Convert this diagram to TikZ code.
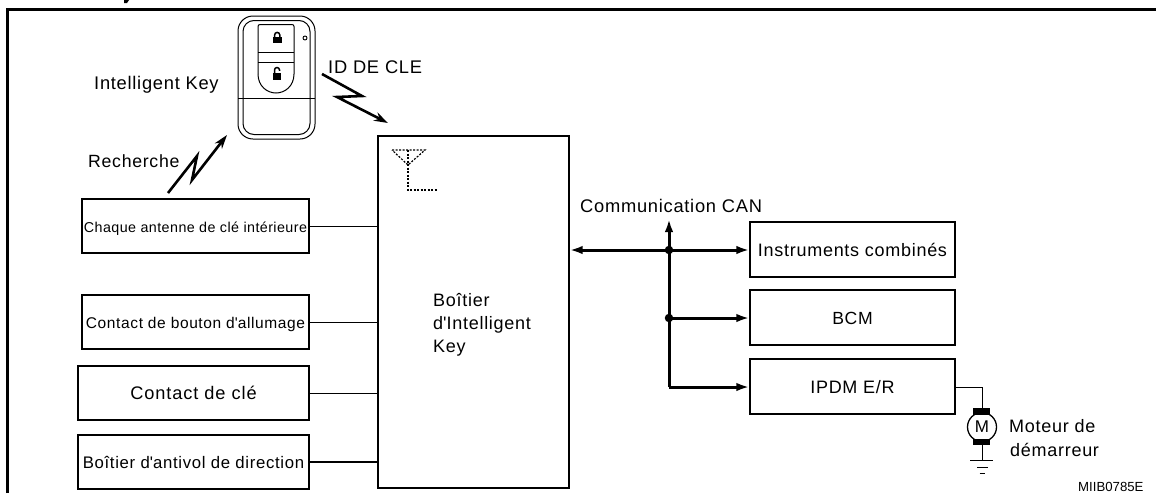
\documentclass[tikz,border=0pt]{standalone}
\usepackage{fontspec}
\setmainfont{Liberation Sans}
\usetikzlibrary{arrows.meta}
\newcommand{\ft}[2]{\fontsize{#1}{#1}\selectfont\addfontfeature{LetterSpace=#2}}
\tikzset{
 box/.style={draw=black,line width=1.3pt,inner sep=0pt,align=center,text height=13pt,text depth=0pt},
 lbl/.style={anchor=base west,inner sep=0pt,text=black},
 wire/.style={draw=black,line width=1pt},
 bus/.style={draw=black,line width=3pt},
 busarrow/.style={bus,-{Latex[length=13pt,width=8.5pt]}},
 bolt/.style={draw=black,line width=2.6pt,-{Stealth[length=14pt,width=9pt]}},
 keyline/.style={draw=black,line width=1pt},
 dotn/.style={circle,fill=black,inner sep=0pt,minimum size=8.5pt},
 dots/.style={line width=1.2pt,dash pattern=on 2pt off 1.5pt},
}
\begin{document}
\begin{tikzpicture}[x=1pt,y=-1pt]
\useasboundingbox (0,0) rectangle (1156,493);
% frame
\draw[line width=3.4pt] (7.5,493) -- (7.5,9.5) -- (1156,9.5);
\fill (124,0) -- (129,0) -- (127,3) -- (124,3.2) -- cycle;
% key fob
\draw[keyline,rounded corners=15pt] (238,16) rectangle (315,139);
\draw[keyline,rounded corners=11pt] (243,20.5) rectangle (310,134.5);
\draw[keyline] (238,98) -- (315,98);
\draw[keyline,rounded corners=2pt] (258,74) -- (258,24.5) -- (294,24.5) -- (294,74);
\draw[keyline] (294,74) .. controls (294,86) and (285,93) .. (276,93) .. controls (267,93) and (258,86) .. (258,74);
\draw[keyline] (258,52) -- (294,52);
\draw[keyline] (258,62) -- (294,62);
\fill (272.5,37) rectangle (282,43);
\draw[line width=1.5pt] (274.6,37) -- (274.6,35) arc[start angle=180,end angle=0,radius=2.6pt] -- (279.8,37);
\fill (272.5,73) rectangle (280.5,79.5);
\draw[line width=1.5pt] (274.5,73) -- (274.5,70) arc[start angle=180,end angle=0,radius=2.5pt] -- (279.5,71);
\fill[white] (278.5,70.5) rectangle (281,72.6);
\draw[line width=.9pt] (305,38) circle[radius=2pt];
% nodes
\node[box,minimum width=227pt,minimum height=54pt] (chaque) at (195.5,226) {\ft{14.3}{3}Chaque antenne de clé intérieure};
\node[box,minimum width=227pt,minimum height=54pt] (bouton) at (195.5,322) {\ft{15.5}{4}Contact de bouton d\textquotesingle allumage};
\node[box,minimum width=231pt,minimum height=54pt] (cle) at (193.5,393) {\ft{18.2}{5}Contact de clé};
\node[box,minimum width=231pt,minimum height=54pt] (antivol) at (193.5,462) {\ft{16.75}{4}Boîtier d\textquotesingle antivol de direction};
\node[draw=black,line width=1.3pt,inner sep=0pt,minimum width=191pt,minimum height=352pt] (main) at (473.5,312) {};
\node[lbl] (mt1) at (433,306) {\ft{18}{4}Boîtier};
\node[lbl] (mt2) at (433,329) {\ft{18}{4}d\textquotesingle Intelligent};
\node[lbl] (mt3) at (433,352) {\ft{18}{4}Key};
\node[box,minimum width=205pt,minimum height=55pt] (inst) at (852.5,249.5) {\ft{18}{4}Instruments combinés};
\node[box,minimum width=205pt,minimum height=55pt] (bcm) at (852.5,317.5) {\ft{17.6}{4}BCM};
\node[box,minimum width=205pt,minimum height=55pt] (ipdm) at (852.5,386.5) {\ft{18}{4}IPDM E/R};
% labels
\node[lbl] (ik) at (94,89) {\ft{18.3}{4}Intelligent Key};
\node[lbl] (rech) at (88,167) {\ft{17.7}{4}Recherche};
\node[lbl] (idc) at (328,73) {\ft{18.3}{4}ID DE CLE};
\node[lbl] (can) at (580,212) {\ft{18.3}{4}Communication CAN};
\node[lbl] (mot1) at (1009,432) {\ft{18}{4}Moteur de};
\node[lbl] (mot2) at (1010,456) {\ft{18}{4}démarreur};
\node[lbl] (ref) at (1078,491) {\ft{13.2}{0}MIIB0785E};
% connectors left
\draw[wire] (chaque.east) -- (chaque.east -| main.west);
\draw[wire] (bouton.east) -- (bouton.east -| main.west);
\draw[wire] (cle.east) -- (cle.east -| main.west);
\draw[wire,line width=1.6pt] (antivol.east) -- (antivol.east -| main.west);
% bus
\coordinate (j1) at (669,250);
\coordinate (j2) at (669,318);
\coordinate (j3) at (669,387);
\coordinate (canTop) at (669,219);
\draw[bus,{Latex[length=13pt,width=8.5pt]}-{Latex[length=13pt,width=8.5pt]}] (main.east |- j1) -- (inst.west |- j1);
\draw[busarrow] (j3) -- (canTop);
\draw[busarrow] (j2) -- (bcm.west |- j2);
\draw[busarrow] (j3) -- (ipdm.west |- j3);
\node[dotn] (d1) at (j1) {};
\node[dotn] (d2) at (j2) {};
% motor
\node[circle,draw=black,line width=1.3pt,minimum size=29pt,inner sep=0pt] (m) at (982,427) {\ft{17}{0}M};
\fill (973,408) rectangle (990,415);
\fill (973,439) rectangle (990,445);
\coordinate (bt) at (982,408);
\coordinate (g) at (982,460);
\draw[wire] (ipdm.east |- j3) -- (bt |- j3) -- (bt);
\draw[wire] (982,445) -- (g);
\draw[wire] (970,460) -- (993,460);
\draw[wire] (977,467) -- (988,467);
\draw[wire] (979.5,473) -- (985,473);
% bolts
\draw[bolt] (168,193) -- (197,156) -- (192,180) -- (227,135);
\draw[bolt] (322,74) -- (362,96) -- (337,97) -- (388,123);
% antenna
\draw[dots] (392,150) -- (425,150) -- (408,165) -- cycle;
\draw[dots] (408,150) -- (408,190) -- (438,190);
\end{tikzpicture}
\end{document}
